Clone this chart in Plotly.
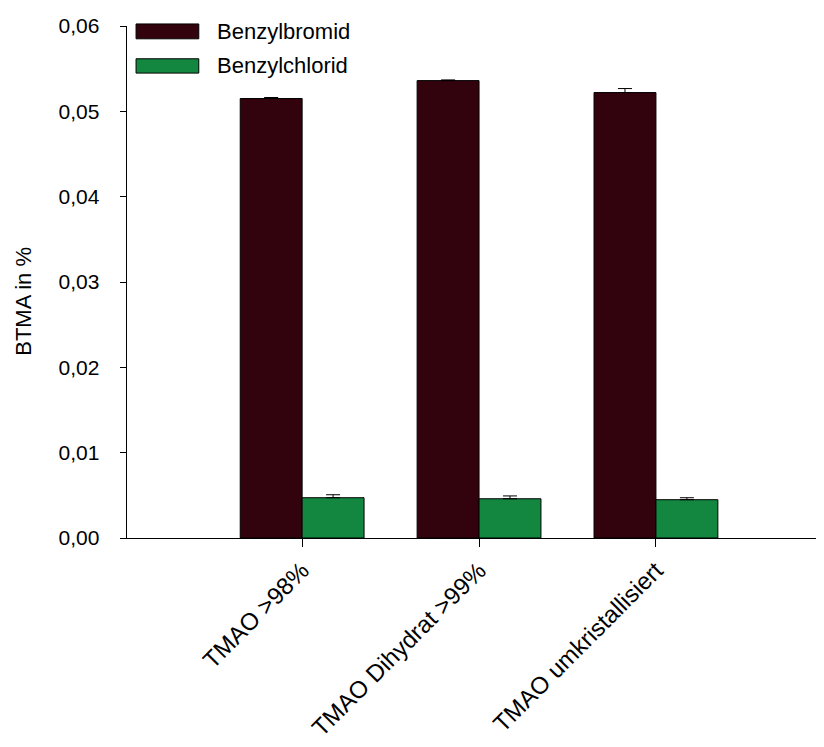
import plotly.graph_objects as go

categories = ["TMAO >98%", "TMAO Dihydrat >99%", "TMAO umkristallisiert"]
series_names = ["Benzylbromid", "Benzylchlorid"]
bromid = [0.0515, 0.0536, 0.0522]
bromid_err = [0.00012, 0.00008, 0.00047]
chlorid = [0.00472, 0.00460, 0.00449]
chlorid_err = [0.00035, 0.00033, 0.00023]
y_ticks = [0.00, 0.01, 0.02, 0.03, 0.04, 0.05, 0.06]
y_title = "BTMA in %"

colors = ["#33030d", "#138740"]
FONT = "Liberation Sans, Arial, sans-serif"

# decimal-comma tick labels, padded away from the axis
y_ticktext = [f"{v:.2f}".replace(".", ",") + "\u2002\u00a0" for v in y_ticks]

fig = go.Figure()
for name, vals, errs, col in zip(series_names, [bromid, chlorid], [bromid_err, chlorid_err], colors):
    fig.add_trace(go.Bar(
        x=list(range(len(categories))), y=vals, name=name,
        marker=dict(color=col, line=dict(color="black", width=1)),
        error_y=dict(type="data", array=errs, arrayminus=[0] * len(errs), symmetric=False,
                     color="black", thickness=1, width=7),
        showlegend=False,
    ))

# custom legend (wide swatches like the original)
legend_rows = [(1.004, 0.975, 0.990), (0.936, 0.908, 0.922)]
for (y1, y0, yc), name, col in zip(legend_rows, series_names, colors):
    fig.add_shape(type="rect", xref="paper", yref="paper",
                  x0=0.013, x1=0.103, y0=y0, y1=y1,
                  fillcolor=col, line=dict(color="black", width=1))
    fig.add_annotation(xref="paper", yref="paper", x=0.126, y=yc,
                       xanchor="left", yanchor="middle", text=name,
                       showarrow=False, font=dict(size=22))

# y-axis title
fig.add_annotation(xref="paper", yref="paper", x=-0.148, y=0.463,
                   xanchor="center", yanchor="middle", text=y_title, textangle=-90,
                   showarrow=False, font=dict(size=22))

fig.update_layout(
    width=816, height=739,
    margin=dict(l=119, r=0, t=18, b=209),
    paper_bgcolor="white", plot_bgcolor="white",
    barmode="group", bargap=0.3, bargroupgap=0,
    font=dict(family=FONT, size=21, color="black"),
    showlegend=False,
    xaxis=dict(
        range=[-0.99, 2.95], automargin=False,
        tickvals=list(range(len(categories))), ticktext=categories,
        tickangle=-45, ticks="outside", ticklen=8, tickcolor="black",
        showline=True, linecolor="black", linewidth=1,
        showgrid=False, zeroline=False,
        tickfont=dict(size=24),
    ),
    yaxis=dict(
        range=[0, 0.06], automargin=False,
        tickvals=y_ticks, ticktext=y_ticktext,
        ticks="outside", ticklen=6, tickcolor="black",
        showline=True, linecolor="black", linewidth=1,
        showgrid=False, zeroline=False,
        tickfont=dict(size=21),
    ),
)

fig.write_html("out.html")
